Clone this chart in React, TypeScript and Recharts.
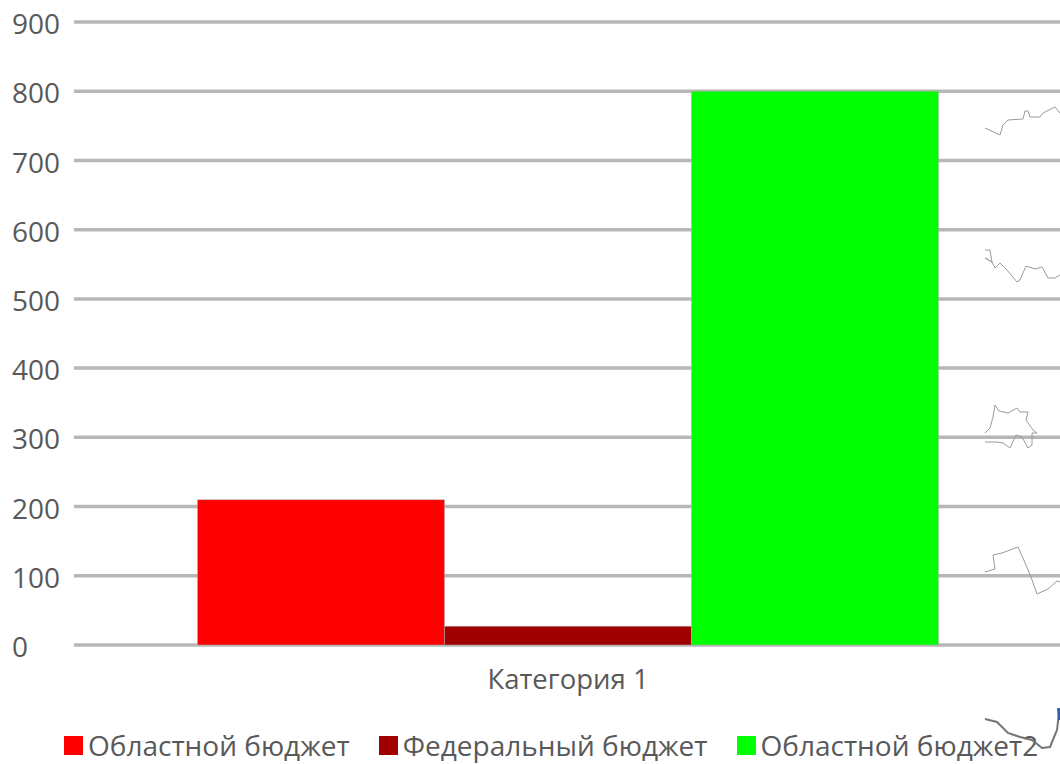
import React from "react";
import { BarChart, Bar, XAxis, YAxis, CartesianGrid, Legend, LineChart, Line } from "recharts";

const FONT = '"Open Sans", sans-serif';
const TEXT = "#595959";
const categories = ["Категория 1"];
const seriesNames = ["Областной бюджет", "Федеральный бюджет", "Областной бюджет2"];
const seriesColors = ["#ff0000", "#a00000", "#00ff00"];
const seriesValues = [210, 27, 800];
const yTicks = [0, 100, 200, 300, 400, 500, 600, 700, 800, 900];

const rows = categories.map((c) => ({
  category: c,
  s0: seriesValues[0],
  s1: seriesValues[1],
  s2: seriesValues[2],
}));

// Map-contour fragments showing through the picture (page coordinates)
type P = [number, number];
const contourA: P[] = [[985,128],[1000,135],[1003,125],[1008,120],[1023,119],[1025,111],[1028,111],[1030,117],[1040,117],[1043,113],[1055,107],[1060,113]];
const contourB: P[] = [[985,250],[990,250],[992,262],[985,258],[992,262],[995,268],[1000,263],[1007,270],[1017,282],[1020,280],[1026,266],[1035,269],[1042,267],[1048,278],[1055,278],[1060,275]];
const contourC: P[] = [[985,433],[990,428],[993,417],[995,405],[999,411],[1008,413],[1017,408],[1020,412],[1028,412],[1026,420],[1033,430],[1037,433],[1032,433],[1032,445],[1028,448],[1022,437],[1016,435],[1010,448],[1003,443],[997,442],[985,442]];
const contourD: P[] = [[985,572],[995,569],[993,555],[1002,553],[1018,547],[1023,558],[1031,577],[1037,594],[1048,589],[1057,581],[1060,582]];
const contourE: P[] = [[985,719],[997,722],[1008,733],[1020,737],[1032,740],[1042,748],[1050,747],[1057,730],[1059,713]];
const contourBlob: P[] = [[1059,708],[1060,720]];
const thinContours = [contourA, contourB, contourC, contourD];
const toRows = (pts: P[]) => pts.map(([x, y]) => ({ x, y }));

const YTick = (props: any) => (
  <text x={12} y={props.y + 2} dy="0.36em" textAnchor="start" fontFamily={FONT} fontSize={28} fill={TEXT}>
    {props.payload.value}
  </text>
);

const LegendContent = () => (
  <div style={{ display: "flex", alignItems: "center", fontFamily: FONT, fontSize: 28, color: TEXT, whiteSpace: "nowrap", lineHeight: "30px" }}>
    {seriesNames.map((n, i) => (
      <span key={n} style={{ display: "flex", alignItems: "center", marginRight: 29 }}>
        <span style={{ width: 19, height: 19, background: seriesColors[i], marginRight: 5 }} />
        {n}
      </span>
    ))}
  </div>
);

export default function App() {
  return (
    <div style={{ position: "fixed", left: 0, top: 0, width: 1060, height: 764, overflow: "hidden", background: "#fff" }}>
      <div style={{ position: "absolute", left: 0, top: 0 }}>
        <BarChart
          width={1062}
          height={764}
          data={rows}
          margin={{ top: 22, right: 0, bottom: 69, left: 0 }}
          barCategoryGap="12.5%"
          barGap={0}
        >
          <CartesianGrid horizontal vertical={false} stroke="#b7b7b7" strokeWidth={3.5} />
          <XAxis
            dataKey="category"
            height={50}
            axisLine={false}
            tickLine={false}
            tickMargin={18}
            tick={{ fontFamily: FONT, fontSize: 27.5, fill: TEXT }}
          />
          <YAxis
            width={74}
            domain={[0, 900]}
            ticks={yTicks}
            interval={0}
            axisLine={false}
            tickLine={false}
            tick={YTick}
          />
          <Legend
            verticalAlign="middle"
            align="center"
            layout="horizontal"
            content={LegendContent}
            wrapperStyle={{ left: 64, top: 730, width: 1000 }}
          />
          {seriesNames.map((n, i) => (
            <Bar key={n} dataKey={`s${i}`} name={n} fill={seriesColors[i]} stroke="#b0b0b0" strokeWidth={0.5} isAnimationActive={false} />
          ))}
        </BarChart>
      </div>
      <div style={{ position: "absolute", left: 0, top: 0, pointerEvents: "none" }}>
        <LineChart width={1060} height={764} margin={{ top: 0, right: 0, bottom: 0, left: 0 }}>
          <XAxis type="number" dataKey="x" domain={[0, 1060]} hide />
          <YAxis type="number" dataKey="y" domain={[0, 764]} reversed hide width={0} />
          {thinContours.map((c, i) => (
            <Line key={i} data={toRows(c)} dataKey="y" stroke="#9a9a9a" strokeWidth={1} dot={false} isAnimationActive={false} />
          ))}
          <Line data={toRows(contourE)} dataKey="y" stroke="#757575" strokeWidth={2} dot={false} isAnimationActive={false} />
          <Line data={toRows(contourBlob)} dataKey="y" stroke="#2f5fb0" strokeWidth={4} dot={false} isAnimationActive={false} />
        </LineChart>
      </div>
    </div>
  );
}
